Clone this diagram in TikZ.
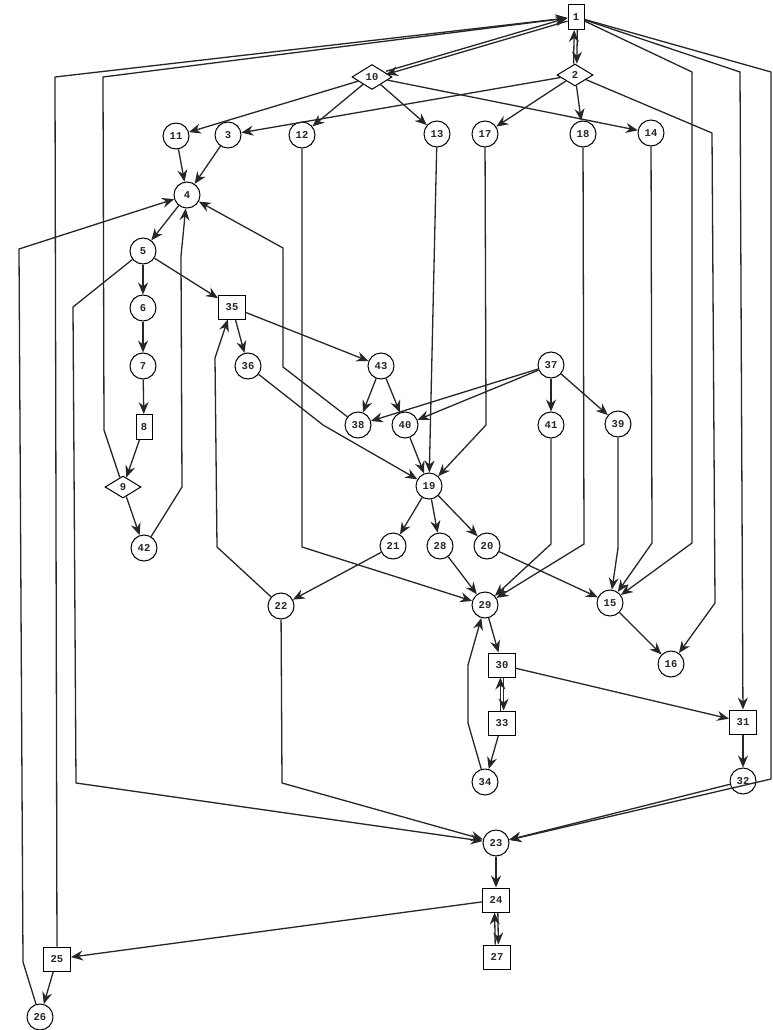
\documentclass[tikz,border=0pt]{standalone}
\usepackage{fontspec}
\setmonofont{Liberation Mono}
\usetikzlibrary{arrows.meta,shapes.geometric}
\begin{document}
\begin{tikzpicture}[x=1pt,y=-1pt,
  lbl/.style={font=\ttfamily\bfseries\fontsize{10.5}{11}\selectfont, draw, line width=1pt, inner sep=0pt, fill=white, text=black!85},
  cnode/.style={lbl, circle, minimum size=26pt},
  bnode/.style={lbl, rectangle, minimum width=27pt, minimum height=24pt},
  snode/.style={lbl, rectangle, minimum width=16pt, minimum height=25pt},
  dnode/.style={lbl, diamond, minimum width=36pt, minimum height=22pt},
  arr/.style={draw=black!85, line width=1.3pt, line join=round, -{Stealth[length=12pt,width=10pt,inset=4pt]}},
  ln/.style={draw=black!85, line width=1.3pt, line join=round}]
\useasboundingbox (0,0) rectangle (773,1030);
% nodes
\node[snode] (n1) at (576,17) {1};
\node[dnode] (n2) at (575,75) {2};
\node[dnode, minimum width=40pt, minimum height=25pt] (n10) at (372,77) {10};
\node[cnode] (n11) at (176,136) {11};
\node[cnode] (n3) at (228,135) {3};
\node[cnode] (n12) at (302,135) {12};
\node[cnode] (n13) at (437,134) {13};
\node[cnode] (n17) at (485,134) {17};
\node[cnode] (n18) at (583,134) {18};
\node[cnode] (n14) at (651,133) {14};
\node[cnode] (n4) at (187,195) {4};
\node[cnode] (n5) at (143,251) {5};
\node[cnode] (n6) at (143,308) {6};
\node[cnode] (n7) at (143,366) {7};
\node[snode] (n8) at (144,427) {8};
\node[dnode] (n9) at (123,487) {9};
\node[cnode] (n42) at (144,548) {42};
\node[bnode] (n35) at (232,307) {35};
\node[cnode] (n36) at (248,366) {36};
\node[cnode] (n43) at (381,366) {43};
\node[cnode] (n38) at (358,425) {38};
\node[cnode] (n40) at (405,425) {40};
\node[cnode] (n37) at (551,365) {37};
\node[cnode] (n41) at (551,425) {41};
\node[cnode] (n39) at (618,424) {39};
\node[cnode] (n19) at (429,486) {19};
\node[cnode] (n21) at (393,546) {21};
\node[cnode] (n28) at (440,546) {28};
\node[cnode] (n20) at (487,546) {20};
\node[cnode] (n22) at (281,606) {22};
\node[cnode] (n29) at (485,605) {29};
\node[cnode] (n15) at (610,603) {15};
\node[cnode] (n16) at (671,664) {16};
\node[bnode] (n30) at (502,665) {30};
\node[bnode] (n33) at (502,723) {33};
\node[cnode] (n34) at (485,782) {34};
\node[bnode] (n31) at (743,722) {31};
\node[cnode] (n32) at (743,781) {32};
\node[cnode] (n23) at (496,843) {23};
\node[bnode] (n24) at (496,900) {24};
\node[bnode] (n27) at (497,957) {27};
\node[bnode] (n25) at (57,959) {25};
\node[cnode] (n26) at (40,1017) {26};
% connectors
\draw[arr, transform canvas={xshift=-1.6pt}] (n2) -- (n1);
\draw[arr, transform canvas={xshift=1.6pt}] (n1) -- (n2);
\draw[arr, transform canvas={yshift=1.6pt}] (n10) -- (n1);
\draw[arr, transform canvas={yshift=-1.6pt}] (n1) -- (n10);
\draw[arr] (n25) -- (55,77) -- (n1);
\draw[arr] (n9) -- (104,430) -- (103,77) -- (n1);
\draw[arr] (n26) -- (23,962) -- (19,249) -- (n4);
\draw[arr] (n5) -- (73,307) -- (76,783) -- (n23);
\draw[arr] (n22) -- (282,783) -- (n23);
\draw[arr] (n32) -- (n23);
\draw[arr] (n1) -- (771,72) -- (771,779) -- (n23);
\draw[arr] (n1) -- (692,72) -- (692,543) -- (n15);
\draw[arr] (n1) -- (740,72) -- (n31);
\draw[arr] (n2) -- (712,133) -- (715,603) -- (n16);
\draw[arr] (n2) -- (n3);
\draw[arr] (n2) -- (n17);
\draw[arr] (n2) -- (n18);
\draw[arr] (n10) -- (n11);
\draw[arr] (n10) -- (n12);
\draw[arr] (n10) -- (n13);
\draw[arr] (n10) -- (n14);
\draw[arr] (n11) -- (n4);
\draw[arr] (n3) -- (n4);
\draw[arr] (n4) -- (n5);
\draw[arr] (n42) -- (182,487) -- (181,256) -- (n4);
\draw[arr] (n38) -- (283,367) -- (283,248) -- (n4);
\draw[arr] (n5) -- (n6);
\draw[arr] (n6) -- (n7);
\draw[arr] (n7) -- (n8);
\draw[arr] (n8) -- (n9);
\draw[arr] (n9) -- (n42);
\draw[arr] (n5) -- (n35);
\draw[arr] (n35) -- (n36);
\draw[arr] (n35) -- (n43);
\draw[arr] (n22) -- (217,547) -- (215,358) -- (n35);
\draw[arr] (n36) -- (323,425) -- (n19);
\draw[arr] (n43) -- (n38);
\draw[arr] (n43) -- (n40);
\draw[arr] (n37) -- (n38);
\draw[arr] (n37) -- (n40);
\draw[arr] (n37) -- (n41);
\draw[arr] (n37) -- (n39);
\draw[arr] (n40) -- (n19);
\draw[arr] (n13) -- (n19);
\draw[arr] (n17) -- (486,425) -- (n19);
\draw[arr] (n12) -- (302,547) -- (n29);
\draw[arr] (n18) -- (584,544) -- (n29);
\draw[arr] (n41) -- (551,544) -- (n29);
\draw[arr] (n14) -- (652,543) -- (n15);
\draw[arr] (n39) -- (618,548) -- (n15);
\draw[arr] (n20) -- (n15);
\draw[arr] (n19) -- (n21);
\draw[arr] (n19) -- (n28);
\draw[arr] (n19) -- (n20);
\draw[arr] (n21) -- (n22);
\draw[arr] (n28) -- (n29);
\draw[arr] (n15) -- (n16);
\draw[arr] (n29) -- (n30);
\draw[arr, transform canvas={xshift=-1.6pt}] (n33) -- (n30);
\draw[arr, transform canvas={xshift=1.6pt}] (n30) -- (n33);
\draw[arr] (n33) -- (n34);
\draw[arr] (n34) -- (468,723) -- (468,665) -- (n29);
\draw[arr] (n30) -- (n31);
\draw[arr] (n31) -- (n32);
\draw[arr] (n23) -- (n24);
\draw[arr, transform canvas={xshift=-1.6pt}] (n27) -- (n24);
\draw[arr, transform canvas={xshift=1.6pt}] (n24) -- (n27);
\draw[arr] (n24) -- (n25);
\draw[arr] (n25) -- (n26);
\end{tikzpicture}
\end{document}
